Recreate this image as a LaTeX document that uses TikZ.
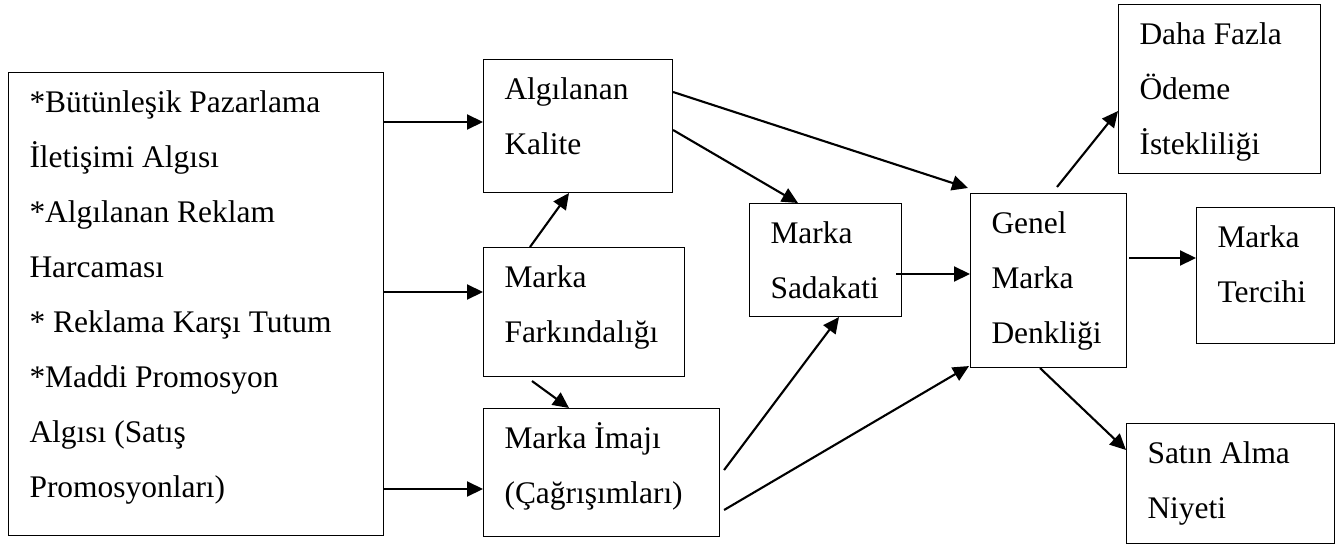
\documentclass[tikz,border=0pt]{standalone}
\usepackage{fontspec}
\setmainfont{Liberation Serif}
\usetikzlibrary{arrows.meta,calc}
\begin{document}
\begin{tikzpicture}[x=0.02cm,y=-0.02cm,
  font=\fontsize{17.9}{31.3}\selectfont,
  box/.style={draw,line width=0.6pt,anchor=north west,align=flush left,
    inner xsep=0.42cm,inner ysep=0pt,text height=0.8cm},
  arr/.style={line width=1.2pt,-{Triangle[length=0.32cm,width=0.3cm]}}]
\useasboundingbox (0,0) rectangle (1335,544);
\node[box,text width=375*0.02cm-0.84cm,text depth=423*0.02cm] (L) at (8,72)
 {*Bütünleşik Pazarlama\\İletişimi Algısı\\{}*Algılanan Reklam\\Harcaması\\{}* Reklama Karşı Tutum\\{}*Maddi Promosyon\\Algısı (Satış\\Promosyonları)};
\node[box,text width=189*0.02cm-0.84cm,text depth=93*0.02cm] (kal) at (483,59) {Algılanan\\Kalite};
\node[box,text width=201*0.02cm-0.84cm,text depth=89*0.02cm] (far) at (483,247) {Marka\\Farkındalığı};
\node[box,text width=236*0.02cm-0.84cm,text depth=88*0.02cm] (ima) at (483,408) {Marka İmajı\\(Çağrışımları)};
\node[box,text width=152*0.02cm-0.84cm,text depth=73*0.02cm] (sad) at (749,203) {Marka\\Sadakati};
\node[box,text width=156*0.02cm-0.84cm,text depth=134*0.02cm] (gen) at (970,193) {Genel\\Marka\\Denkliği};
\node[box,text width=202*0.02cm-0.84cm,text depth=129*0.02cm] (daha) at (1118,4) {Daha Fazla\\Ödeme\\İstekliliği};
\node[box,text width=138*0.02cm-0.84cm,text depth=96*0.02cm] (ter) at (1196,207) {Marka\\Tercihi};
\node[box,text width=208*0.02cm-0.84cm,text depth=80*0.02cm] (sat) at (1126,423) {Satın Alma\\Niyeti};
% connectors
\coordinate (a1) at ($(L.north east)+(0,50)$);
\coordinate (a2) at ($(L.north east)+(0,220)$);
\coordinate (a3) at ($(L.north east)+(0,417)$);
\draw[arr] (a1) -- (a1 -| kal.west);
\draw[arr] (a2) -- (a2 -| far.west);
\draw[arr] (a3) -- (a3 -| ima.west);
\draw[arr] ($(far.north west)+(47,0)$) -- ($(kal.south west)+(86,0)$);
\draw[arr] ($(far.south west)+(49,4)$) -- ($(ima.north west)+(86,0)$);
\draw[arr] ($(kal.north east)+(0,33)$) -- ($(gen.north west)+(-2,-5)$);
\draw[arr] ($(kal.north east)+(0,71)$) -- ($(sad.north west)+(49,0)$);
\coordinate (s1) at ($(sad.north east)+(-6,71)$);
\draw[arr] (s1) -- (s1 -| gen.west);
\draw[arr] ($(ima.north east)+(4,62)$) -- ($(sad.south west)+(90,0)$);
\draw[arr] ($(ima.north east)+(4,102)$) -- ($(gen.south west)+(-1,-2)$);
\draw[arr] ($(gen.north west)+(87,-6)$) -- ($(daha.north west)+(0,107)$);
\coordinate (g1) at ($(gen.north east)+(2,65)$);
\draw[arr] (g1) -- (g1 -| ter.west);
\draw[arr] ($(gen.south west)+(70,0)$) -- ($(sat.north west)+(0,27)$);
\end{tikzpicture}
\end{document}
